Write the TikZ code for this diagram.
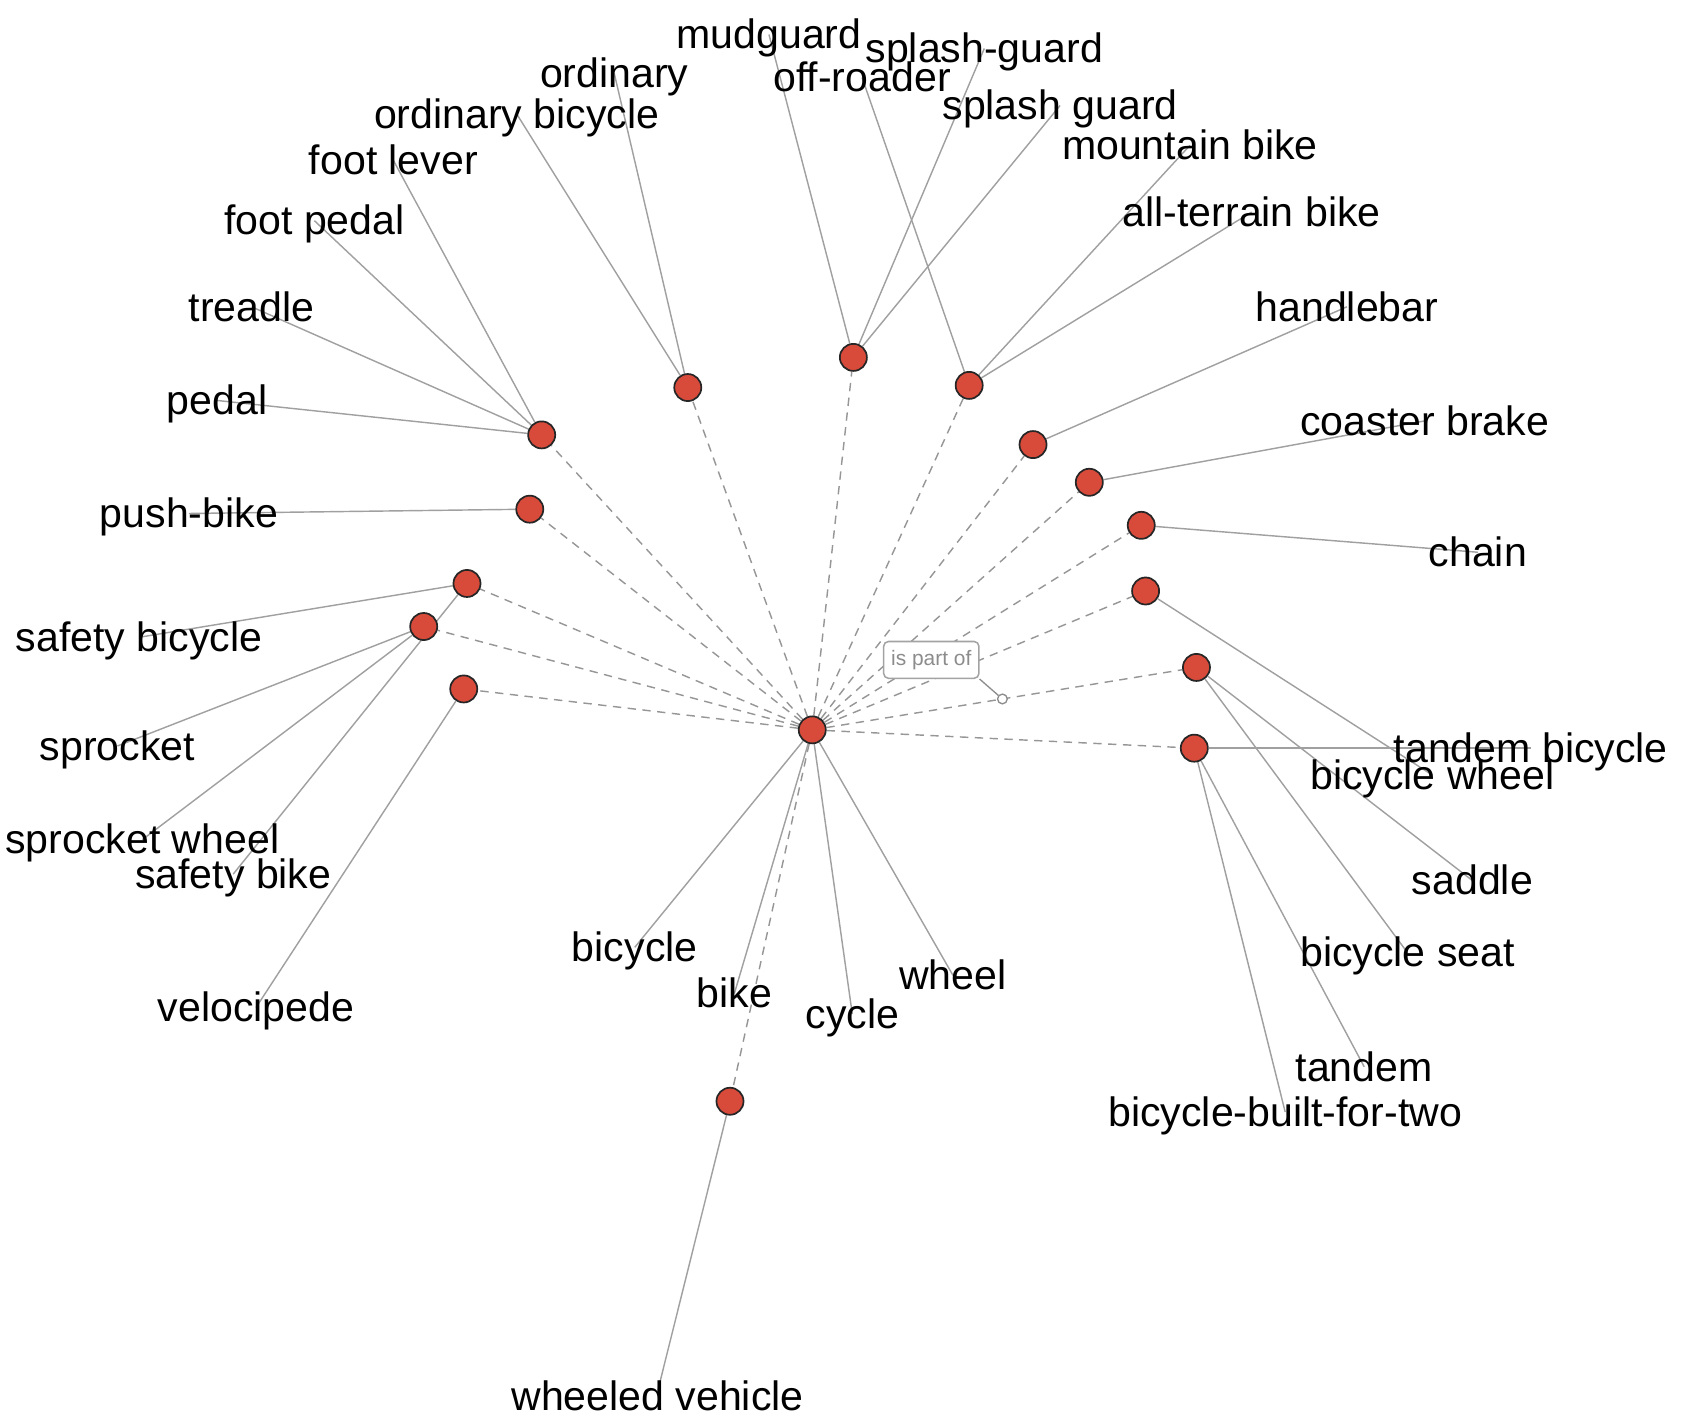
\documentclass[tikz,border=0pt]{standalone}
\usepackage{fontspec}
\setmainfont{Liberation Sans}
\usetikzlibrary{backgrounds,calc}
\definecolor{nodered}{RGB}{216,75,59}
\definecolor{edgegray}{RGB}{160,160,160}
\definecolor{dashgray}{RGB}{150,150,150}
\definecolor{tipgray}{RGB}{140,140,140}
\tikzset{
  hub/.style={circle,fill=nodered,draw=black!85,line width=0.9pt,minimum size=0.5cm,inner sep=0pt},
  lbl/.style={inner sep=0pt,text height=19.3pt,text depth=4.3pt,anchor=center,font=\fontsize{21.6pt}{25pt}\selectfont,text=black},
  syn/.style={draw=edgegray,line width=0.75pt},
  partedge/.style={draw=dashgray,line width=0.75pt,dash pattern=on 4.4pt off 3.4pt},
  tipbox/.style={draw=tipgray!80,rounded corners=2.5pt,line width=0.8pt,fill=white,text=tipgray,minimum width=1.76cm,minimum height=0.68cm,inner sep=0pt,font=\fontsize{11pt}{13pt}\selectfont},
  pin/.style={circle,draw=tipgray,fill=white,line width=0.7pt,minimum size=0.18cm,inner sep=0pt}
}
\begin{document}
\begin{tikzpicture}[x=0.02cm,y=-0.0199cm]
\useasboundingbox (0cm,0cm) rectangle (31.2cm,-26.21cm);
\begin{scope}[xshift=-0.07cm]
% word nodes
\node[hub] (C) at (754,678) {};
\node[hub] (n1) at (504,404) {};
\node[hub] (n2) at (639,360) {};
\node[hub] (n3) at (792,332) {};
\node[hub] (n4) at (899,358) {};
\node[hub] (n5) at (958,413) {};
\node[hub] (n6) at (1010,448) {};
\node[hub] (n7) at (1058,488) {};
\node[hub] (n8) at (1062,549) {};
\node[hub] (n9) at (1109,620) {};
\node[hub] (n10) at (1107,695) {};
\node[hub] (n11) at (678,1023) {};
\node[hub] (n12) at (432,640) {};
\node[hub] (n13) at (395,582) {};
\node[hub] (n14) at (435,542) {};
\node[hub] (n15) at (493,473) {};

% labels
\node[lbl] (mudguard) at (714,32) {mudguard};
\node[lbl] (splashguard1) at (913,45) {splash-guard};
\node[lbl] (ordinary) at (571,68) {ordinary};
\node[lbl] (offroader) at (800,72) {off-roader};
\node[lbl] (splashguard2) at (983,98) {splash guard};
\node[lbl] (ordbicycle) at (481,106) {ordinary bicycle};
\node[lbl] (mountainbike) at (1103,135) {mountain bike};
\node[lbl] (footlever) at (367,149) {foot lever};
\node[lbl] (allterrain) at (1160,197) {all-terrain bike};
\node[lbl] (footpedal) at (294,205) {foot pedal};
\node[lbl] (treadle) at (236,285) {treadle};
\node[lbl] (handlebar) at (1248,285) {handlebar};
\node[lbl] (pedal) at (204,372) {pedal};
\node[lbl] (coaster) at (1320,391) {coaster brake};
\node[lbl] (pushbike) at (178,477) {push-bike};
\node[lbl] (chain) at (1369,513) {chain};
\node[lbl] (safetybicycle) at (132,592) {safety bicycle};
\node[lbl] (sprocket) at (112,693) {sprocket};
\node[lbl] (tandembicycle) at (1418,695) {tandem bicycle};
\node[lbl] (bicyclewheel) at (1327,720) {bicycle wheel};
\node[lbl] (sprocketwheel) at (135,780) {sprocket wheel};
\node[lbl] (safetybike) at (219,812) {safety bike};
\node[lbl] (saddle) at (1364,818) {saddle};
\node[lbl] (bicycle) at (590,880) {bicycle};
\node[lbl] (bicycleseat) at (1304,885) {bicycle seat};
\node[lbl] (wheel) at (884,906) {wheel};
\node[lbl] (bike) at (682,923) {bike};
\node[lbl] (velocipede) at (240,936) {velocipede};
\node[lbl] (cycle) at (791,942) {cycle};
\node[lbl] (tandem) at (1264,991) {tandem};
\node[lbl] (bbft) at (1191,1033) {bicycle-built-for-two};
\node[lbl,text depth=0pt] (wheeledvehicle) at (611,1293) {wheeled vehicle};

% relation tooltip
\coordinate (pinpt) at ($(C)!0.495!(n9)$);
\node[tipbox] (ispartof) at (864,613) {is part of};
\node[pin] (pinc) at (pinpt) {};

\begin{pgfonlayer}{background}
  % dashed relation edges
  \foreach \n in {n1,n2,n3,n4,n5,n6,n7,n8,n9,n10,n11,n12,n13,n14,n15}
    \draw[partedge] (C) -- (\n);
  % synonym edges
  \draw[syn] (C) -- (bicycle.center);
  \draw[syn] (C) -- (bike.center);
  \draw[syn] (C) -- (cycle.center);
  \draw[syn] (C) -- (wheel.center);
  \draw[syn] (n1) -- (pedal.center);
  \draw[syn] (n1) -- (treadle.center);
  \draw[syn] (n1) -- (footpedal.center);
  \draw[syn] (n1) -- (footlever.center);
  \draw[syn] (n2) -- (ordbicycle.center);
  \draw[syn] (n2) -- (ordinary.center);
  \draw[syn] (n3) -- (mudguard.center);
  \draw[syn] (n3) -- (splashguard1.center);
  \draw[syn] (n3) -- (splashguard2.center);
  \draw[syn] (n4) -- (offroader.center);
  \draw[syn] (n4) -- (mountainbike.center);
  \draw[syn] (n4) -- (allterrain.center);
  \draw[syn] (n5) -- (handlebar.center);
  \draw[syn] (n6) -- (coaster.center);
  \draw[syn] (n7) -- (chain.center);
  \draw[syn] (n8) -- (bicyclewheel.center);
  \draw[syn] (n9) -- (saddle.center);
  \draw[syn] (n9) -- (bicycleseat.center);
  \draw[syn] (n10) -- (tandembicycle.center);
  \draw[syn] (n10) -- (tandem.center);
  \draw[syn] (n10) -- (bbft.center);
  \draw[syn] (n11) -- (wheeledvehicle.center);
  \draw[syn] (n12) -- (velocipede.center);
  \draw[syn] (n13) -- (sprocket.center);
  \draw[syn] (n13) -- (sprocketwheel.center);
  \draw[syn] (n14) -- (safetybicycle.center);
  \draw[syn] (n14) -- (safetybike.center);
  \draw[syn] (n15) -- (pushbike.center);
\end{pgfonlayer}
\draw[draw=tipgray,line width=0.7pt] (ispartof.south east) ++(-0.05,0) -- (pinc);
\end{scope}
\end{tikzpicture}
\end{document}
